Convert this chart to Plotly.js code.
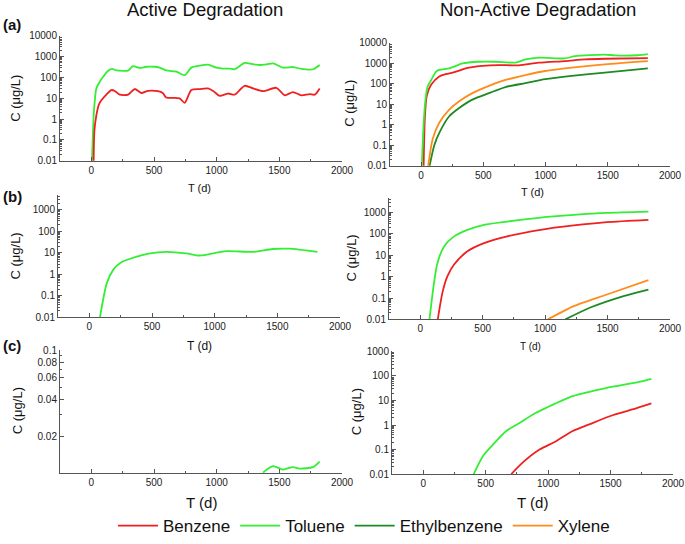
<!DOCTYPE html>
<html>
<head>
<meta charset="utf-8">
<script src="https://cdn.plot.ly/plotly-3.0.1.min.js"></script>
<style>html,body{margin:0;padding:0;background:#fff;}#chart{width:685px;height:544px;}</style>
</head>
<body>
<div id="chart"></div>
<script>
// ---------- Data ----------
const seriesNames = ["Benzene", "Toluene", "Ethylbenzene", "Xylene"];
const columnTitles = ["Active Degradation", "Non-Active Degradation"];
const panelLabels = ["(a)", "(b)", "(c)"];
const xTickVals = [0, 500, 1000, 1500, 2000];
const logTickVals = [0.01, 0.1, 1, 10, 100, 1000, 10000];
const logTickText = ["0.01", "0.1", "1", "10", "100", "1000", "10000"];
const cTickVals = [0.02, 0.04, 0.06, 0.08, 0.1];
const cTickText = ["0.02", "0.04", "0.06", "0.08", "0.1"];

// Row (a) – Active degradation
const aActTolT = [5, 20, 40, 65, 90, 130, 165, 200, 253, 293, 332, 386, 439, 505, 545, 598, 678, 745, 798, 864, 931, 997, 1050, 1104, 1144, 1223, 1280, 1343, 1400, 1450, 1529, 1609, 1676, 1769, 1822];
const aActTolC = [0.008, 2, 30, 60, 100, 200, 260, 220, 210, 215, 350, 290, 330, 330, 300, 220, 190, 130, 300, 370, 420, 300, 270, 270, 250, 500, 450, 400, 430, 480, 300, 320, 260, 250, 400];
const aActBenT = [18, 25, 40, 60, 80, 120, 160, 190, 226, 293, 346, 399, 452, 532, 570, 598, 705, 745, 798, 864, 931, 975, 1024, 1090, 1144, 1223, 1290, 1370, 1476, 1543, 1609, 1676, 1742, 1782, 1822];
const aActBenC = [0.008, 0.3, 1.5, 5, 8, 15, 25, 22, 15, 15, 28, 18, 23, 22, 18, 11, 10, 6, 25, 28, 30, 22, 13, 17, 15, 40, 30, 22, 32, 14, 20, 14, 16, 15, 30];

// Row (a) – Non-active degradation
const aNonTolT = [5, 20, 35, 53, 80, 120, 146, 226, 280, 332, 465, 598, 758, 838, 944, 1157, 1237, 1476, 1556, 1742, 1822];
const aNonTolC = [0.008, 1, 17, 75, 150, 400, 480, 570, 750, 1000, 1200, 1200, 1100, 1550, 1900, 1750, 2250, 2700, 2450, 2500, 2800];
const aNonBenT = [20, 30, 45, 80, 146, 200, 253, 306, 359, 492, 625, 785, 944, 1157, 1316, 1476, 1822];
const aNonBenC = [0.008, 2, 25, 90, 230, 300, 350, 440, 570, 750, 830, 800, 1080, 1300, 1560, 1680, 1800];
const aNonEthT = [65, 106, 146, 226, 306, 412, 545, 678, 838, 997, 1210, 1476, 1822];
const aNonEthC = [0.008, 0.1, 0.4, 2.6, 6.6, 17, 35, 70, 108, 170, 245, 350, 570];
const aNonXylT = [55, 93, 146, 226, 306, 412, 545, 678, 838, 997, 1210, 1476, 1822];
const aNonXylC = [0.008, 0.2, 1.25, 5.5, 14, 35, 80, 155, 270, 425, 620, 900, 1300];

// Row (b) – Active degradation
const bActTolT = [82, 140, 193, 246, 325, 484, 616, 775, 880, 1092, 1304, 1463, 1595, 1820];
const bActTolC = [0.008, 0.4, 1.7, 3.4, 5.3, 9.3, 11, 9.3, 7.5, 12, 11, 15, 15.5, 11];

// Row (b) – Non-active degradation
const bNonTolT = [72, 112, 138, 191, 271, 378, 511, 697, 963, 1229, 1495, 1827];
const bNonTolC = [0.008, 0.6, 4.4, 26, 77, 156, 267, 380, 585, 780, 970, 1110];
const bNonBenT = [138, 178, 218, 271, 378, 511, 697, 963, 1229, 1495, 1827];
const bNonBenC = [0.008, 0.18, 1.05, 3.7, 15.4, 37, 77, 156, 250, 355, 455];
const bNonEthT = [1162, 1362, 1628, 1827];
const bNonEthC = [0.01, 0.036, 0.124, 0.25];
const bNonXylT = [1021, 1229, 1495, 1827];
const bNonXylC = [0.01, 0.042, 0.147, 0.69];

// Row (c) – Active degradation
const cActTolT = [1370, 1449, 1529, 1609, 1662, 1769, 1822];
const cActTolC = [0.0101, 0.0114, 0.0107, 0.0112, 0.0109, 0.0112, 0.0124];

// Row (c) – Non-active degradation
const cNonTolT = [404, 479, 559, 665, 771, 878, 984, 1197, 1463, 1729, 1827];
const cNonTolC = [0.01, 0.055, 0.16, 0.57, 1.2, 2.7, 5, 15, 32, 57, 76];
const cNonBenT = [705, 798, 931, 1064, 1197, 1330, 1516, 1676, 1827];
const cNonBenC = [0.01, 0.03, 0.1, 0.22, 0.57, 1.07, 2.5, 4.3, 7.6];

// ---------- Styling ----------
const colors = {Benzene: "#ee2020", Toluene: "#33ee33", Ethylbenzene: "#1e8a24", Xylene: "#ff8c1a"};
const FONT = "Arial, 'Liberation Sans', Helvetica, sans-serif";
const W = 685, H = 544;
const px = v => v / W;
const py = v => 1 - v / H;

function tr(x, y, name, ax, show) {
  return {
    x: x, y: y, name: name, type: "scatter", mode: "lines",
    line: {color: colors[name], width: 1.8, shape: "spline", smoothing: 0.7},
    xaxis: "x" + ax, yaxis: "y" + ax, showlegend: !!show, hoverinfo: "skip"
  };
}

const data = [
  tr(aNonBenT, aNonBenC, seriesNames[0], 2, true),
  tr(aNonTolT, aNonTolC, seriesNames[1], 2, true),
  tr(aNonEthT, aNonEthC, seriesNames[2], 2, true),
  tr(aNonXylT, aNonXylC, seriesNames[3], 2, true),
  tr(aActTolT, aActTolC, "Toluene", ""),
  tr(aActBenT, aActBenC, "Benzene", ""),
  tr(bActTolT, bActTolC, "Toluene", 3),
  tr(bNonTolT, bNonTolC, "Toluene", 4),
  tr(bNonBenT, bNonBenC, "Benzene", 4),
  tr(bNonXylT, bNonXylC, "Xylene", 4),
  tr(bNonEthT, bNonEthC, "Ethylbenzene", 4),
  tr(cActTolT, cActTolC, "Toluene", 5),
  tr(cNonTolT, cNonTolC, "Toluene", 6),
  tr(cNonBenT, cNonBenC, "Benzene", 6)
];

const AX = "#555";
function xa(l, r, anchor) {
  return {
    domain: [px(l), px(r)], anchor: anchor, range: [-250, 2000],
    tickmode: "array", tickvals: xTickVals,
    ticks: "inside", ticklen: 4, tickcolor: AX, showline: true, linecolor: AX, linewidth: 1,
    showgrid: false, zeroline: false, tickfont: {family: FONT, size: 10, color: "#222"},
    minor: {tickmode: "linear", tick0: 0, dtick: 250, ticks: "inside", ticklen: 2, tickcolor: AX, showgrid: false}
  };
}
function ya(t, b, anchor, range, tv, tt) {
  return {
    domain: [py(b), py(t)], anchor: anchor, type: "log", range: range,
    tickmode: "array", tickvals: tv || logTickVals, ticktext: tt || logTickText,
    ticks: "inside", ticklen: 4, tickcolor: AX, showline: true, linecolor: AX, linewidth: 1,
    showgrid: false, zeroline: false, tickfont: {family: FONT, size: 10, color: "#222"},
    minor: {tickmode: "linear", dtick: "D1", ticks: "inside", ticklen: 2, tickcolor: AX, showgrid: false}
  };
}

const layout = {
  width: W, height: H, margin: {l: 0, r: 0, t: 0, b: 0},
  paper_bgcolor: "#fff", plot_bgcolor: "rgba(0,0,0,0)",
  font: {family: FONT, color: "#111"},
  showlegend: true,
  legend: {orientation: "h", x: px(364), xanchor: "center", y: py(527), yanchor: "middle",
           font: {family: FONT, size: 17, color: "#111"}, traceorder: "normal", itemwidth: 40},
  xaxis: xa(60, 342, "y"),   yaxis: ya(36, 161, "x", [-2, 4]),
  xaxis2: xa(390, 670, "y2"), yaxis2: ya(43, 166, "x2", [-2, 4]),
  xaxis3: xa(58, 340, "y3"), yaxis3: ya(195, 318, "x3", [-2, 3.7]),
  xaxis4: xa(389, 670, "y4"), yaxis4: ya(198, 320, "x4", [-2, 3.7]),
  xaxis5: xa(60, 342, "y5"), yaxis5: ya(351, 474, "x5", [-2, -1], cTickVals, cTickText),
  xaxis6: xa(392, 673, "y6"), yaxis6: ya(352, 475, "x6", [-2, 3]),
  annotations: []
};

function ann(text, x, y, size, opts) {
  return Object.assign({text: text, xref: "paper", yref: "paper", x: px(x), y: py(y),
    xanchor: "center", yanchor: "middle", showarrow: false,
    font: {family: FONT, size: size, color: "#111"}}, opts || {});
}
const A = layout.annotations;
A.push(ann(columnTitles[0], 205, 10, 18.5));
A.push(ann(columnTitles[1], 538, 10, 18.5));
A.push(ann("<b>" + panelLabels[0] + "</b>", 12, 25, 15));
A.push(ann("<b>" + panelLabels[1] + "</b>", 12, 197, 15));
A.push(ann("<b>" + panelLabels[2] + "</b>", 12, 346, 15));
const yTitle = "C (\u03bcg/L)";
[[16, 98], [350, 104], [16, 256], [352, 259], [17, 412], [356, 413]].forEach(p => {
  A.push(ann(yTitle, p[0], p[1], 13, {textangle: -90}));
});
A.push(ann("T (d)", 200, 188, 11));
A.push(ann("T (d)", 532, 192, 11));
A.push(ann("T (d)", 200, 347, 12));
A.push(ann("T (d)", 530, 347, 10));
A.push(ann("T (d)", 201, 503, 15));
A.push(ann("T (d)", 532, 503, 15));

Plotly.newPlot("chart", data, layout, {staticPlot: true, displayModeBar: false});
</script>
</body>
</html>
